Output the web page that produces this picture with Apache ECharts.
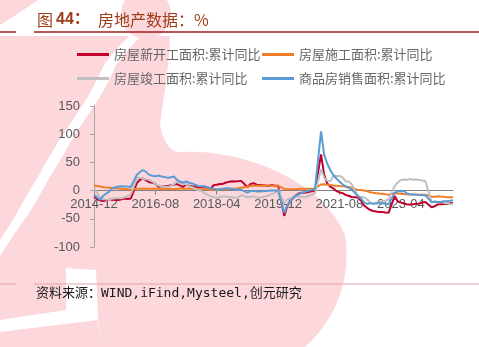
<!DOCTYPE html>
<html>
<head>
<meta charset="utf-8">
<script src="https://cdn.jsdelivr.net/npm/echarts@6/dist/echarts.min.js"></script>
<style>
html,body{margin:0;padding:0;background:#fff;}
#c{width:479px;height:347px;}
</style>
</head>
<body>
<div id="c"></div>
<script>
// Monthly categories 2014-12 .. 2024-09 (January values are not published -> null)
const startYear = 2014, startMonth = 12, monthCount = 118;
const categories = [];
for (let i = 0; i < monthCount; i++) {
  const m0 = startMonth - 1 + i;
  const y = startYear + Math.floor(m0 / 12);
  const m = (m0 % 12) + 1;
  categories.push(y + '-' + (m < 10 ? '0' + m : m));
}

const seriesNames = ['房屋新开工面积:累计同比', '房屋施工面积:累计同比', '房屋竣工面积:累计同比', '商品房销售面积:累计同比'];

const newStarts = [-10.7,
  null,-17.7,-18.4,-17.3,-16.0,-15.8,-16.8,-16.8,-15.6,-13.9,-14.7,-14.0,
  null,13.7,19.2,21.4,18.1,14.9,14.0,12.2,6.9,7.7,7.6,8.1,
  null,10.4,11.6,9.2,6.3,10.6,8.6,7.7,7.4,5.6,5.3,7.0,
  null,2.9,9.7,10.3,11.8,11.8,14.4,15.5,16.4,16.3,16.8,17.2,
  null,6.0,11.9,13.1,10.5,10.1,9.5,8.9,8.6,10.0,8.6,8.5,
  null,-44.9,-27.2,-18.4,-12.8,-7.6,-4.5,-3.6,-3.4,-2.3,-1.0,-1.2,
  null,64.3,28.2,12.8,6.9,3.8,-0.9,-3.2,-4.5,-7.7,-9.1,-11.4,
  null,-12.2,-17.5,-26.3,-30.6,-34.4,-36.1,-37.2,-38.0,-37.8,-38.9,-39.4,
  null,-9.4,-19.2,-21.2,-22.6,-24.3,-24.5,-24.4,-23.4,-23.2,-21.2,-20.4,
  null,-29.7,-27.8,-24.6,-24.2,-23.7,-23.2,-22.5,-22.2];

const underConstruction = [9.2,
  null,7.3,6.0,5.3,5.1,4.6,4.3,3.6,3.1,2.9,2.6,1.3,
  null,3.4,3.1,3.5,3.6,3.5,3.2,3.1,3.3,2.8,3.0,3.2,
  null,2.6,3.1,3.6,3.4,3.3,3.1,3.4,3.3,3.1,3.1,3.0,
  null,1.7,2.0,1.8,2.4,2.4,2.7,3.0,3.3,3.5,4.0,5.2,
  null,6.8,8.2,8.8,8.8,8.8,9.0,8.8,9.0,9.0,8.7,8.7,
  null,2.9,2.6,2.5,2.6,2.6,3.1,3.4,3.5,3.5,3.4,3.7,
  null,11.0,11.2,10.5,10.1,9.2,8.7,8.2,7.9,7.1,6.3,5.2,
  null,0.9,1.0,0.2,-1.0,-2.8,-3.7,-4.5,-5.3,-5.7,-6.5,-7.2,
  null,-4.4,-5.2,-5.6,-6.2,-6.6,-6.8,-7.1,-7.1,-7.3,-7.2,-7.2,
  null,-11.0,-11.1,-10.0,-10.6,-10.8,-11.6,-11.8,-12.0];

const completed = [5.9,
  null,-12.5,-15.4,-15.8,-16.1,-14.3,-13.4,-13.3,-13.6,-11.8,-9.4,-6.9,
  null,22.0,23.0,21.0,20.0,19.0,16.0,12.0,9.0,8.0,7.0,6.1,
  null,11.0,16.0,13.0,12.0,11.0,8.0,6.0,3.0,1.0,-1.0,-4.4,
  null,-10.2,-11.5,-13.0,-11.4,-10.6,-10.5,-11.6,-12.0,-12.5,-12.3,-7.8,
  null,-11.9,-10.8,-10.3,-12.4,-12.7,-11.3,-10.0,-8.6,-5.5,-4.5,2.6,
  null,-22.9,-15.8,-14.1,-10.4,-10.5,-11.0,-10.8,-11.6,-9.2,-7.3,-4.9,
  null,38.0,22.9,17.9,16.4,25.7,25.7,26.0,23.4,16.3,16.2,11.2,
  null,-9.8,-11.5,-11.9,-15.3,-21.5,-23.3,-21.1,-19.9,-18.7,-19.0,-15.0,
  null,8.0,14.7,18.8,19.6,19.0,20.5,19.2,19.8,19.0,17.9,17.0,
  null,-20.2,-20.7,-20.4,-19.6,-21.8,-21.7,-23.6,-24.4];

const salesArea = [-7.6,
  null,-16.3,-9.2,-5.4,-1.7,3.9,6.1,7.2,7.5,7.2,7.4,6.5,
  null,28.2,33.1,36.5,33.2,27.9,26.4,25.5,26.9,25.1,24.3,22.5,
  null,25.1,19.5,15.7,14.3,16.1,14.0,12.7,10.3,8.2,7.9,7.7,
  null,4.1,3.6,1.3,2.9,3.3,4.2,4.0,2.9,2.2,1.4,1.3,
  null,-3.6,-0.9,-0.3,-1.6,-1.8,-1.3,-0.6,-0.1,0.1,0.2,-0.1,
  null,-39.9,-26.3,-19.3,-12.3,-8.4,-5.8,-3.3,-1.8,0.0,1.3,2.6,
  null,104.9,63.8,48.1,36.3,27.7,21.5,15.9,11.3,7.5,4.8,1.9,
  null,-9.6,-13.8,-20.9,-23.6,-22.2,-23.1,-23.0,-22.2,-22.3,-23.3,-24.3,
  null,-3.6,-1.8,-0.4,-0.9,-5.3,-6.5,-7.1,-7.5,-7.8,-8.0,-8.5,
  null,-20.5,-19.4,-20.2,-20.3,-19.0,-18.6,-18.0,-17.1];

const yMin = -100, yMax = 150, yStep = 50;
const colors = ['#c0002b', '#f07d27', '#bfbfbf', '#5b9bd5'];
const allData = [newStarts, underConstruction, completed, salesArea];

const gridTop = 106, gridBottom = 100, gridH = 347 - gridTop - gridBottom;
// shift the category axis (line, ticks and labels) up to the zero value
const zeroOffset = -gridH * (0 - yMin) / (yMax - yMin);

// background watermark outlines (decoration only)
const pink = '#fcd7dc';
const wm = [
  'M0,0 L38,0 Q18,14 0,25 Z',
  'M0,36 L129,36 C120,46 110,56 104,65 C99,75 94,85 89,95 C82,106 74,118 66,130 C56,145 47,160 39,175 C30,190 22,203 16,215 C10,225 4,233 0,240 Z',
  'M141,36 L170,36 C169,70 163,100 160,125 C163,140 168,150 178,152 C250,148 325,185 345,235 C352,280 335,320 305,347 L102,347 L98,318 L96,270 L66,268 L66,310 L0,320 L0,256 C10,240 20,225 28,215 C40,195 48,180 51,175 C62,158 70,142 78,130 C88,115 95,104 101,95 C107,85 112,74 116,65 C124,54 132,45 141,36 Z',
  'M0,332 L98,320 L102,347 L0,347 Z'
];
function pathToPoints(d) {
  const tok = d.match(/[MLCQZ]|-?[\d.]+/g);
  const pts = []; let i = 0, cur = [0, 0];
  while (i < tok.length) {
    const c = tok[i++];
    if (c === 'M' || c === 'L') { cur = [+tok[i++], +tok[i++]]; pts.push(cur); }
    else if (c === 'Q') {
      const p1 = [+tok[i++], +tok[i++]], p2 = [+tok[i++], +tok[i++]], p0 = cur;
      for (let t = 1; t <= 12; t++) { const s = t / 12, u = 1 - s;
        pts.push([u*u*p0[0] + 2*u*s*p1[0] + s*s*p2[0], u*u*p0[1] + 2*u*s*p1[1] + s*s*p2[1]]); }
      cur = p2;
    } else if (c === 'C') {
      const p1 = [+tok[i++], +tok[i++]], p2 = [+tok[i++], +tok[i++]], p3 = [+tok[i++], +tok[i++]], p0 = cur;
      for (let t = 1; t <= 16; t++) { const s = t / 16, u = 1 - s;
        pts.push([u*u*u*p0[0] + 3*u*u*s*p1[0] + 3*u*s*s*p2[0] + s*s*s*p3[0],
                  u*u*u*p0[1] + 3*u*u*s*p1[1] + 3*u*s*s*p2[1] + s*s*s*p3[1]]); }
      cur = p3;
    }
  }
  return pts;
}
const graphics = wm.map(p => ({type: 'polygon', z: -10, silent: true, shape: {points: pathToPoints(p)}, style: {fill: pink}}));
graphics.push({type: 'circle', z: -10, silent: true, shape: {cx: 146, cy: 14, r: 25}, style: {fill: pink}});
graphics.push({type: 'line', z: 10, shape: {x1: 0, y1: 32, x2: 16, y2: 32}, style: {stroke: '#a21c1c', lineWidth: 1.5}});
graphics.push({type: 'line', z: 10, shape: {x1: 34, y1: 32, x2: 479, y2: 32}, style: {stroke: '#a21c1c', lineWidth: 1.5}});
graphics.push({type: 'line', z: 10, shape: {x1: 0, y1: 284, x2: 16, y2: 284}, style: {stroke: '#e3a5ab', lineWidth: 1}});
graphics.push({type: 'line', z: 10, shape: {x1: 34, y1: 284, x2: 479, y2: 284}, style: {stroke: '#e3a5ab', lineWidth: 1}});
graphics.push({type: 'text', z: 10, style: {text: '图', x: 37, y: 20, fill: '#9c3c18', font: '16px "Noto Sans CJK SC"', verticalAlign: 'middle'}});
graphics.push({type: 'text', z: 10, style: {text: '44：', x: 56, y: 20, fill: '#9c3c18', font: 'bold 16px "Liberation Sans", "Noto Sans CJK SC"', verticalAlign: 'middle'}});
graphics.push({type: 'text', z: 10, style: {text: '房地产数据：%', x: 98, y: 20, fill: '#9c3c18', font: '16px "Noto Sans CJK SC"', verticalAlign: 'middle'}});
graphics.push({type: 'text', z: 10, style: {text: '资料来源：WIND,iFind,Mysteel,创元研究', x: 36, y: 294, fill: '#1a1a1a', font: '13px "DejaVu Sans Mono", "Noto Sans CJK SC"', verticalAlign: 'middle'}});

const legendPos = [[77, 48], [262, 48], [77, 72], [262, 72]];
const legends = seriesNames.map((n, i) => ({
  data: [n], left: legendPos[i][0], top: legendPos[i][1], icon: 'rect',
  itemWidth: 32, itemHeight: 3, itemGap: 0, padding: 0,
  textStyle: {fontSize: 13, color: '#666', fontFamily: '"Noto Sans CJK SC"'}
}));

const chart = echarts.init(document.getElementById('c'), null, {renderer: 'canvas'});
chart.setOption({
  animation: false,
  backgroundColor: '#fff',
  graphic: {elements: graphics},
  legend: legends,
  grid: {left: 94, right: 26, top: gridTop, bottom: gridBottom, containLabel: false},
  xAxis: {
    type: 'category', data: categories, boundaryGap: false, position: 'bottom', offset: zeroOffset,
    axisLine: {onZero: false, lineStyle: {color: '#808080', width: 1}},
    axisTick: {show: true, interval: 19, length: 4, lineStyle: {color: '#808080'}},
    axisLabel: {interval: 19, fontSize: 13, color: '#595959', margin: 7, fontFamily: '"Liberation Sans", Arial', hideOverlap: false},
    splitLine: {show: false}
  },
  yAxis: {
    type: 'value', min: yMin, max: yMax, interval: yStep,
    axisLine: {show: true, lineStyle: {color: '#a6a6a6'}},
    axisTick: {show: true, length: 4, lineStyle: {color: '#a6a6a6'}},
    axisLabel: {fontSize: 13, color: '#595959', margin: 14, fontFamily: '"Liberation Sans", Arial'},
    splitLine: {show: false}
  },
  series: seriesNames.map((n, i) => ({
    name: n, type: 'line', data: allData[i], connectNulls: true,
    symbol: 'none', lineStyle: {width: 2, color: colors[i]}, itemStyle: {color: colors[i]}
  }))
});
</script>
</body>
</html>
